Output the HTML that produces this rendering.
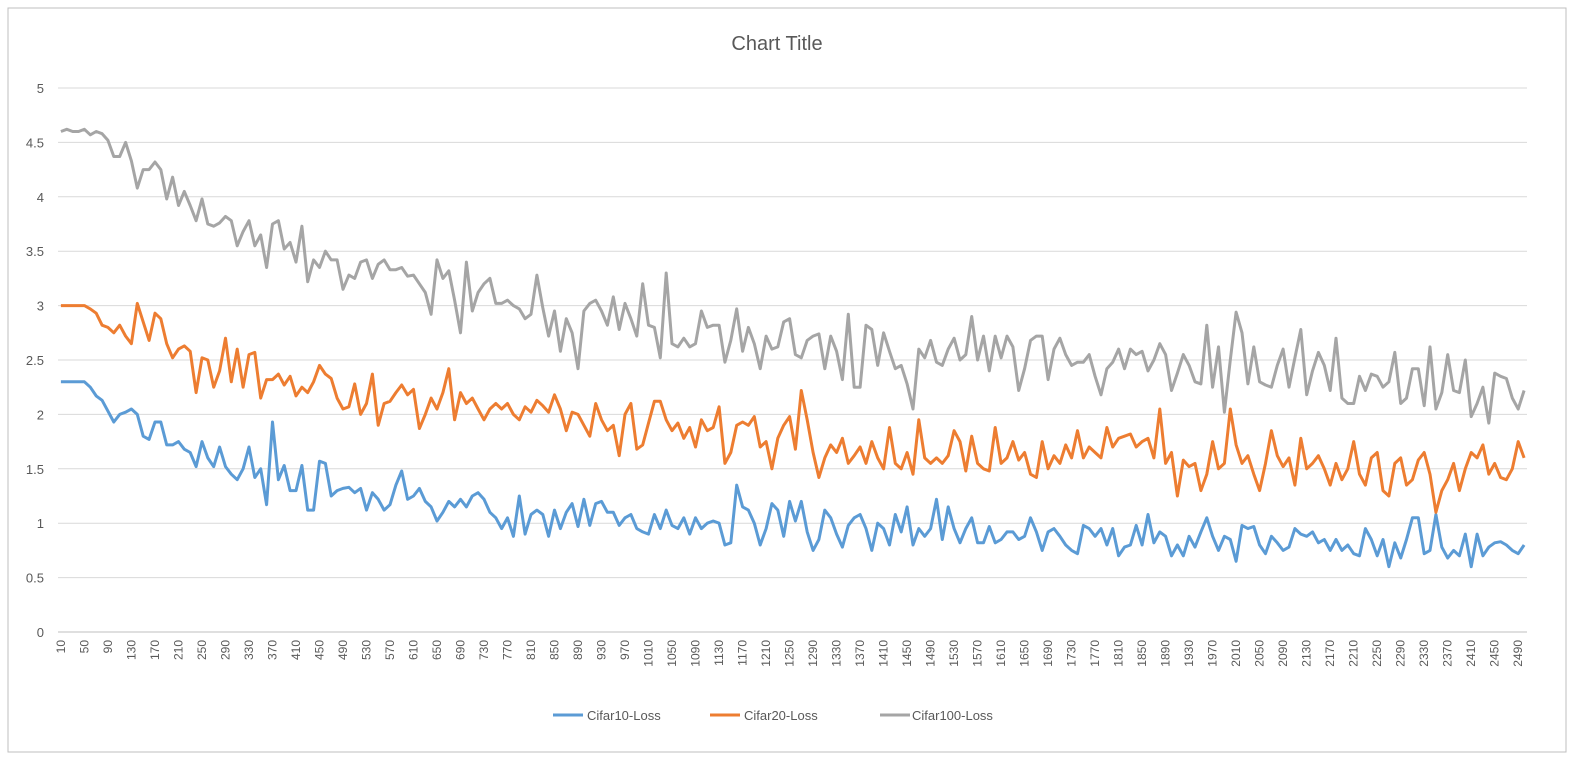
<!DOCTYPE html>
<html><head><meta charset="utf-8"><style>
body{margin:0;background:#fff;width:1574px;height:766px;overflow:hidden}
svg{display:block;font-family:"Liberation Sans",sans-serif}
</style></head><body>
<svg id="chart" width="1574" height="766">
<rect x="8" y="8" width="1558" height="744" fill="#fff" stroke="#bfbfbf"/>
<text x="777" y="50" text-anchor="middle" font-size="20" fill="#595959">Chart Title</text>
<g id="grid"></g><g id="yt"></g><g id="xt"></g><g id="lines"></g>
<g>
<line x1="553" y1="715" x2="583" y2="715" stroke="#5B9BD5" stroke-width="3"/>
<text x="587" y="720" font-size="13" fill="#595959">Cifar10-Loss</text>
<line x1="710" y1="715" x2="740" y2="715" stroke="#ED7D31" stroke-width="3"/>
<text x="744" y="720" font-size="13" fill="#595959">Cifar20-Loss</text>
<line x1="880" y1="715" x2="910" y2="715" stroke="#A5A5A5" stroke-width="3"/>
<text x="912" y="720" font-size="13" fill="#595959">Cifar100-Loss</text>
</g>
</svg>
<script>
const yTicks=[0,0.5,1,1.5,2,2.5,3,3.5,4,4.5,5];
const yTickLabels=["0","0.5","1","1.5","2","2.5","3","3.5","4","4.5","5"];
const cifar10=[2.3,2.3,2.3,2.3,2.3,2.25,2.17,2.13,2.03,1.93,2.0,2.02,2.05,2.0,1.8,1.77,1.93,1.93,1.72,1.72,1.75,1.68,1.65,1.52,1.75,1.6,1.52,1.7,1.52,1.45,1.4,1.5,1.7,1.42,1.5,1.17,1.93,1.4,1.53,1.3,1.3,1.53,1.12,1.12,1.57,1.55,1.25,1.3,1.32,1.33,1.28,1.32,1.12,1.28,1.22,1.12,1.17,1.35,1.48,1.22,1.25,1.32,1.2,1.15,1.02,1.1,1.2,1.15,1.22,1.15,1.25,1.28,1.22,1.1,1.05,0.95,1.05,0.88,1.25,0.9,1.08,1.12,1.08,0.88,1.12,0.95,1.1,1.18,0.97,1.22,0.98,1.18,1.2,1.1,1.1,0.98,1.05,1.08,0.95,0.92,0.9,1.08,0.95,1.12,0.98,0.95,1.05,0.9,1.05,0.95,1.0,1.02,1.0,0.8,0.82,1.35,1.15,1.12,1.0,0.8,0.95,1.18,1.12,0.88,1.2,1.02,1.2,0.92,0.75,0.85,1.12,1.05,0.9,0.78,0.98,1.05,1.08,0.95,0.75,1.0,0.95,0.8,1.08,0.92,1.15,0.8,0.95,0.88,0.95,1.22,0.85,1.15,0.95,0.82,0.95,1.05,0.82,0.82,0.97,0.82,0.85,0.92,0.92,0.85,0.88,1.05,0.92,0.75,0.92,0.95,0.88,0.8,0.75,0.72,0.98,0.95,0.88,0.95,0.8,0.95,0.7,0.78,0.8,0.98,0.8,1.08,0.82,0.92,0.88,0.7,0.8,0.7,0.88,0.78,0.92,1.05,0.88,0.75,0.88,0.85,0.65,0.98,0.95,0.97,0.8,0.72,0.88,0.82,0.75,0.78,0.95,0.9,0.88,0.92,0.82,0.85,0.75,0.85,0.75,0.8,0.72,0.7,0.95,0.85,0.7,0.85,0.6,0.82,0.68,0.85,1.05,1.05,0.72,0.75,1.08,0.78,0.68,0.75,0.7,0.9,0.6,0.9,0.7,0.78,0.82,0.83,0.8,0.75,0.72,0.8,0.78,0.7,0.8];
const cifar20=[3.0,3.0,3.0,3.0,3.0,2.97,2.93,2.82,2.8,2.75,2.82,2.72,2.65,3.02,2.85,2.68,2.93,2.88,2.65,2.52,2.6,2.63,2.58,2.2,2.52,2.5,2.25,2.4,2.7,2.3,2.6,2.25,2.55,2.57,2.15,2.32,2.32,2.37,2.27,2.35,2.17,2.25,2.2,2.3,2.45,2.37,2.33,2.15,2.05,2.07,2.28,2.0,2.1,2.37,1.9,2.1,2.12,2.2,2.27,2.18,2.23,1.87,2.0,2.15,2.05,2.2,2.42,1.95,2.2,2.1,2.15,2.05,1.95,2.05,2.1,2.05,2.1,2.0,1.95,2.07,2.02,2.13,2.08,2.02,2.18,2.05,1.85,2.02,2.0,1.9,1.8,2.1,1.95,1.85,1.9,1.62,2.0,2.1,1.68,1.72,1.92,2.12,2.12,1.95,1.85,1.92,1.78,1.88,1.7,1.95,1.85,1.88,2.07,1.55,1.65,1.9,1.93,1.9,1.98,1.7,1.75,1.5,1.78,1.9,1.98,1.68,2.22,1.95,1.65,1.42,1.6,1.72,1.65,1.78,1.55,1.62,1.7,1.55,1.75,1.6,1.5,1.88,1.55,1.5,1.65,1.45,1.95,1.6,1.55,1.6,1.55,1.62,1.85,1.75,1.48,1.8,1.55,1.5,1.48,1.88,1.55,1.6,1.75,1.58,1.65,1.45,1.42,1.75,1.5,1.62,1.55,1.72,1.6,1.85,1.6,1.7,1.65,1.6,1.88,1.7,1.78,1.8,1.82,1.7,1.75,1.78,1.6,2.05,1.55,1.65,1.25,1.58,1.52,1.55,1.3,1.45,1.75,1.5,1.55,2.05,1.72,1.55,1.62,1.45,1.3,1.55,1.85,1.62,1.52,1.6,1.35,1.78,1.5,1.55,1.62,1.5,1.35,1.55,1.4,1.5,1.75,1.45,1.35,1.6,1.65,1.3,1.25,1.55,1.6,1.35,1.4,1.58,1.65,1.45,1.1,1.3,1.4,1.55,1.3,1.5,1.65,1.6,1.72,1.45,1.55,1.42,1.4,1.5,1.75,1.6,1.7,1.65,1.3,1.22,1.68,1.62,1.5,1.58,1.4,1.68,1.45];
const cifar100=[4.6,4.62,4.6,4.6,4.62,4.57,4.6,4.58,4.52,4.37,4.37,4.5,4.33,4.08,4.25,4.25,4.32,4.25,3.98,4.18,3.92,4.05,3.92,3.78,3.98,3.75,3.73,3.76,3.82,3.78,3.55,3.68,3.78,3.55,3.65,3.35,3.75,3.78,3.52,3.58,3.4,3.73,3.22,3.42,3.35,3.5,3.42,3.42,3.15,3.28,3.25,3.4,3.42,3.25,3.38,3.42,3.33,3.33,3.35,3.27,3.28,3.2,3.12,2.92,3.42,3.25,3.32,3.05,2.75,3.4,2.95,3.12,3.2,3.25,3.02,3.02,3.05,3.0,2.97,2.88,2.92,3.28,2.98,2.72,2.95,2.58,2.88,2.75,2.42,2.95,3.02,3.05,2.95,2.82,3.08,2.78,3.02,2.88,2.72,3.2,2.82,2.8,2.52,3.3,2.65,2.62,2.7,2.62,2.65,2.95,2.8,2.82,2.82,2.48,2.68,2.97,2.58,2.8,2.65,2.42,2.72,2.6,2.62,2.85,2.88,2.55,2.52,2.68,2.72,2.74,2.42,2.72,2.58,2.32,2.92,2.25,2.25,2.82,2.78,2.45,2.75,2.58,2.42,2.45,2.28,2.05,2.6,2.52,2.68,2.48,2.45,2.6,2.7,2.5,2.55,2.9,2.5,2.72,2.4,2.72,2.52,2.72,2.62,2.22,2.42,2.68,2.72,2.72,2.32,2.6,2.7,2.55,2.45,2.48,2.48,2.55,2.35,2.18,2.42,2.48,2.6,2.42,2.6,2.55,2.58,2.4,2.5,2.65,2.55,2.22,2.38,2.55,2.45,2.3,2.28,2.82,2.25,2.62,2.02,2.5,2.94,2.75,2.28,2.62,2.3,2.27,2.25,2.45,2.6,2.25,2.52,2.78,2.18,2.4,2.57,2.45,2.22,2.7,2.15,2.1,2.1,2.35,2.22,2.37,2.35,2.25,2.3,2.57,2.1,2.15,2.42,2.42,2.08,2.62,2.05,2.2,2.55,2.22,2.2,2.5,1.98,2.1,2.25,1.92,2.38,2.35,2.33,2.15,2.05,2.22];
const categories=[];
for(let c=10;c<=2500;c+=10)categories.push(c);

const NS="http://www.w3.org/2000/svg";
const L=58,R=1527,T=88,B=632;
const N=categories.length,bw=(R-L)/N;
const xs=i=>L+bw*(i+0.5);
const ys=v=>B-(v/5)*(B-T);
function mk(tag,attrs,parent){const e=document.createElementNS(NS,tag);for(const k in attrs)e.setAttribute(k,attrs[k]);document.getElementById(parent).appendChild(e);return e;}

yTicks.forEach((v,i)=>{
  const g=mk('line',{x1:L,x2:R,y1:ys(v),y2:ys(v),stroke:v===0?'#bfbfbf':'#d9d9d9','stroke-width':1},'grid');
  
  
  const t=mk('text',{x:44,y:ys(v)+5,'text-anchor':'end','font-size':13,fill:'#595959'},'yt');
  t.textContent=yTickLabels[i];
  
  
});
categories.forEach((c,i)=>{
  if(i%4!==0)return;
  const x=xs(i);
  const t=mk('text',{x:0,y:0,'text-anchor':'end','font-size':12,fill:'#595959',transform:`translate(${x+4},${B+8}) rotate(-90)`},'xt');
  t.textContent=c;
  
  
});
[[cifar10,'#5B9BD5','cifar10-loss-line'],[cifar20,'#ED7D31','cifar20-loss-line'],[cifar100,'#A5A5A5','cifar100-loss-line']].forEach(([d,col,name])=>{
  const pts=d.slice(0,N).map((v,i)=>xs(i).toFixed(1)+','+ys(v).toFixed(1)).join(' ');
  const p=mk('polyline',{points:pts,fill:'none',stroke:col,'stroke-width':3,'stroke-linejoin':'round'},'lines');
  
  
});
</script>
</body></html>
